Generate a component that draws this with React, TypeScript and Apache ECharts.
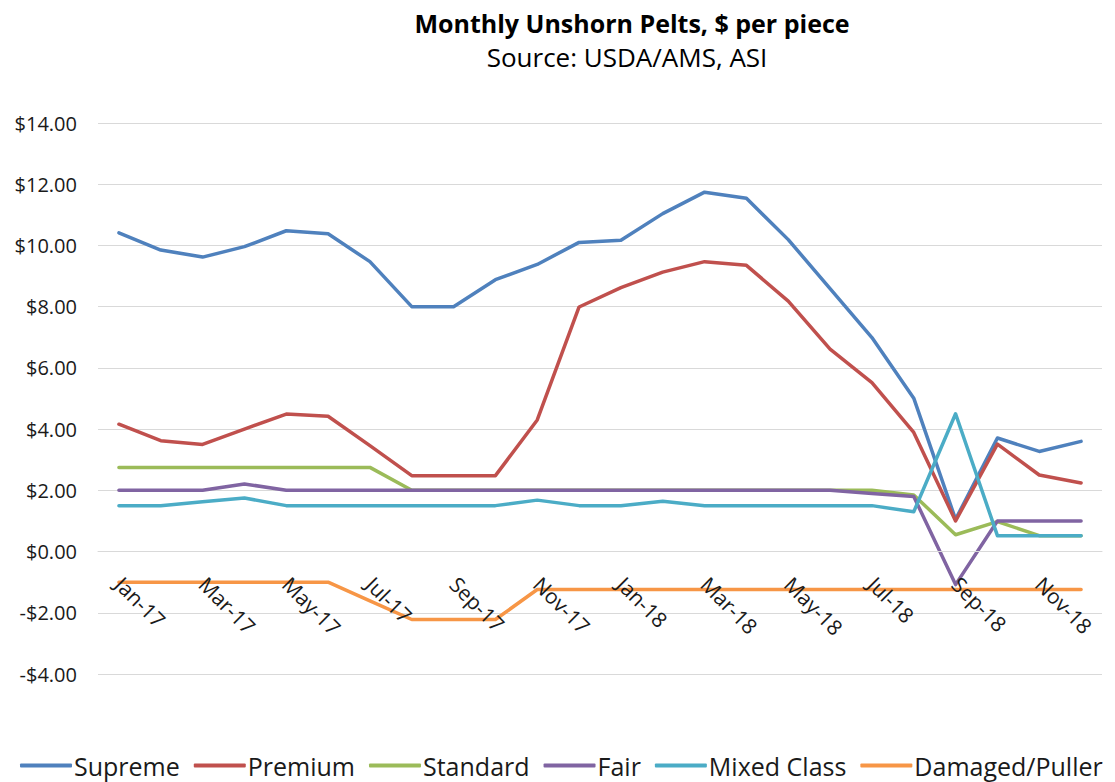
import React, { useEffect, useRef } from "react";
import * as echarts from "echarts";

const months = [
  "Jan-17", "Feb-17", "Mar-17", "Apr-17", "May-17", "Jun-17", "Jul-17", "Aug-17", "Sep-17", "Oct-17", "Nov-17", "Dec-17",
  "Jan-18", "Feb-18", "Mar-18", "Apr-18", "May-18", "Jun-18", "Jul-18", "Aug-18", "Sep-18", "Oct-18", "Nov-18", "Dec-18",
];

const supreme = [10.41, 9.85, 9.62, 9.96, 10.48, 10.38, 9.47, 8.0, 8.0, 8.88, 9.38, 10.1, 10.17, 11.04, 11.74, 11.54, 10.19, 8.59, 6.99, 5.01, 1.05, 3.71, 3.27, 3.6];
const premium = [4.16, 3.62, 3.5, 4.0, 4.49, 4.42, 3.46, 2.48, 2.48, 2.48, 4.3, 7.99, 8.62, 9.13, 9.47, 9.35, 8.18, 6.61, 5.52, 3.89, 1.0, 3.51, 2.5, 2.24];
const standard = [2.75, 2.75, 2.75, 2.75, 2.75, 2.75, 2.75, 2.0, 2.0, 2.0, 2.0, 2.0, 2.0, 2.0, 2.0, 2.0, 2.0, 2.0, 2.0, 1.85, 0.55, 0.98, 0.52, 0.52];
const fair = [2.0, 2.0, 2.0, 2.21, 2.0, 2.0, 2.0, 2.0, 2.0, 2.0, 2.0, 2.0, 2.0, 2.0, 2.0, 2.0, 2.0, 2.0, 1.9, 1.8, -1.08, 1.0, 1.0, 1.0];
const mixedClass = [1.5, 1.5, 1.63, 1.75, 1.5, 1.5, 1.5, 1.5, 1.5, 1.5, 1.68, 1.5, 1.5, 1.64, 1.5, 1.5, 1.5, 1.5, 1.5, 1.3, 4.5, 0.52, 0.52, 0.52];
const damagedPuller = [-1.0, -1.0, -1.0, -1.0, -1.0, -1.0, -1.61, -2.22, -2.22, -2.22, -1.24, -1.24, -1.24, -1.24, -1.24, -1.24, -1.24, -1.24, -1.24, -1.24, -1.24, -1.24, -1.24, -1.24];

const seriesNames = ["Supreme", "Premium", "Standard", "Fair", "Mixed Class", "Damaged/Puller"];
const seriesValues = [supreme, premium, standard, fair, mixedClass, damagedPuller];
const seriesColors = ["#4F81BD", "#C0504D", "#9BBB59", "#8064A2", "#4BACC6", "#F79646"];

const yMin = -4;
const yMax = 14;
const yStep = 2;

const titleText = "Monthly Unshorn Pelts, $ per piece";
const subtitleText = "Source: USDA/AMS, ASI";

const FONT = "'Open Sans', 'Liberation Sans', sans-serif";

const GRID_TOP = 123;
const GRID_BOTTOM = 108;
const CHART_H = 782;

export default function App() {
  const ref = useRef<HTMLDivElement>(null);
  useEffect(() => {
    if (!ref.current) return;
    const chart = echarts.init(ref.current, null, { renderer: "svg" });
    const plotH = CHART_H - GRID_TOP - GRID_BOTTOM;
    // distance from bottom of plot to the zero line, so the category axis sits on $0
    const zeroOffset = (plotH * (0 - yMin)) / (yMax - yMin);
    chart.setOption({
      animation: false,
      backgroundColor: "#ffffff",
      textStyle: { fontFamily: FONT },
      graphic: [
        {
          type: "text",
          x: 632,
          y: 23,
          style: {
            text: titleText,
            textAlign: "center",
            textVerticalAlign: "middle",
            fontFamily: FONT,
            fontSize: 25,
            fontWeight: "bold",
            fill: "#000000",
          },
        },
        {
          type: "text",
          x: 627,
          y: 57,
          style: {
            text: subtitleText,
            textAlign: "center",
            textVerticalAlign: "middle",
            fontFamily: FONT,
            fontSize: 26,
            fill: "#000000",
          },
        },
      ],
      legend: {
        left: 15,
        top: 748,
        icon: "roundRect",
        itemWidth: 52,
        itemHeight: 4,
        itemGap: 14,
        textStyle: { fontSize: 25, color: "#1a1a1a", fontFamily: FONT, padding: [0, 0, 0, -3] },
        data: seriesNames,
      },
      grid: { left: 98, right: 13, top: GRID_TOP, bottom: GRID_BOTTOM, containLabel: false },
      xAxis: {
        type: "category",
        data: months,
        boundaryGap: true,
        position: "bottom",
        offset: -zeroOffset,
        z: 5,
        axisLine: { show: true, onZero: false, lineStyle: { color: "#d9d9d9", width: 1 } },
        axisTick: { show: false },
        axisLabel: {
          interval: 1,
          rotate: -45,
          margin: 29,
          fontSize: 21,
          color: "#1a1a1a",
          fontFamily: FONT,
        },
        splitLine: { show: false },
      },
      yAxis: {
        type: "value",
        min: yMin,
        max: yMax,
        interval: yStep,
        axisLine: { show: false },
        axisTick: { show: false },
        axisLabel: {
          margin: 21,
          fontSize: 20,
          color: "#1a1a1a",
          fontFamily: FONT,
          formatter: (v: number) => (v < 0 ? "-$" + Math.abs(v).toFixed(2) : "$" + v.toFixed(2)),
        },
        splitLine: { show: true, lineStyle: { color: "#d9d9d9", width: 1 } },
      },
      series: seriesNames.map((name, i) => ({
        name,
        type: "line",
        data: seriesValues[i],
        symbol: "none",
        showSymbol: false,
        color: seriesColors[i],
        lineStyle: { width: 3.5, color: seriesColors[i], cap: "round", join: "round" },
      })),
    });
    return () => chart.dispose();
  }, []);
  return (
    <div
      ref={ref}
      style={{ position: "fixed", left: 0, top: 0, width: 1115, height: 782 }}
    />
  );
}
